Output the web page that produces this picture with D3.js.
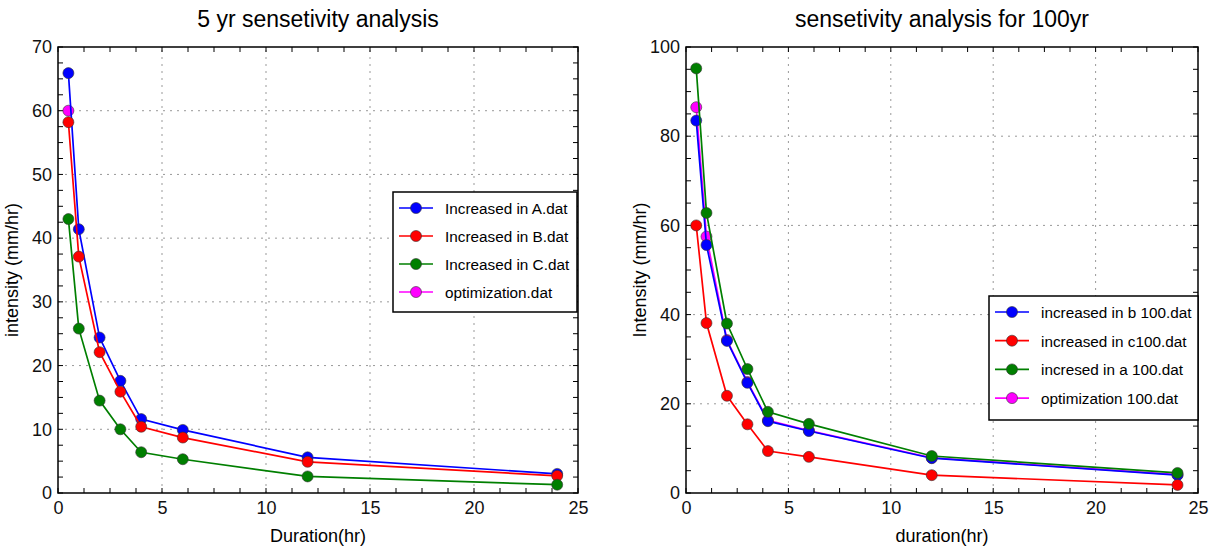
<!DOCTYPE html>
<html>
<head>
<meta charset="utf-8">
<script src="https://cdn.jsdelivr.net/npm/d3@7"></script>
<style>
  body { margin: 0; background: #fff; }
  svg { font-family: "Liberation Sans", Arial, sans-serif; }
  .tick text { font-size: 18px; fill: #111; }
</style>
</head>
<body>
<svg width="1212" height="550"></svg>
<script>
// durations (hr)
var duration = [0.5, 1, 2, 3, 4, 6, 12, 24];

// 5 yr sensitivity
var incA = [65.9, 41.4, 24.4, 17.6, 11.6, 9.9, 5.6, 3.0];
var incB = [58.2, 37.1, 22.1, 15.9, 10.4, 8.7, 4.9, 2.7];
var incC = [43.0, 25.8, 14.5, 10.0, 6.4, 5.3, 2.6, 1.3];
var opt5 = [60.0];

// 100 yr sensitivity
var incB100 = [83.5, 55.6, 34.1, 24.7, 16.1, 13.9, 7.8, 4.0];
var incC100 = [60.0, 38.1, 21.8, 15.4, 9.4, 8.1, 4.0, 1.8];
var incA100 = [95.2, 62.8, 38.0, 27.8, 18.2, 15.5, 8.3, 4.5];
var opt100 = [86.5, 57.5, 34.3, 24.9, 16.3, 14.0, 7.9, 4.1];

var xTicks = [0, 5, 10, 15, 20, 25];
var yTicks5 = [0, 10, 20, 30, 40, 50, 60, 70];
var yTicks100 = [0, 20, 40, 60, 80, 100];

var blue = "#0000ff", red = "#ff0000", green = "#007f00", magenta = "#ff00ff";

var svg = d3.select("svg");

function panel(cfg) {
  var x = d3.scaleLinear().domain([0, 25]).range([cfg.left, cfg.right]);
  var y = d3.scaleLinear().domain([0, cfg.ymax]).range([493, 47]);
  var g = svg.append("g");

  // grid
  g.selectAll(".gx").data(xTicks.slice(1, -1)).enter().append("line")
    .attr("x1", d => x(d)).attr("x2", d => x(d))
    .attr("y1", y(0)).attr("y2", y(cfg.ymax))
    .attr("stroke", "#999").attr("stroke-dasharray", "2,5");
  g.selectAll(".gy").data(cfg.yTicks.slice(1, -1)).enter().append("line")
    .attr("x1", x(0)).attr("x2", x(25))
    .attr("y1", d => y(d)).attr("y2", d => y(d))
    .attr("stroke", "#999").attr("stroke-dasharray", "2,5");

  // minor ticks
  var xMinor = d3.range(0, 25.01, 1.25);
  var yMinor = d3.range(0, cfg.ymax + 0.01, cfg.ystep / 4);
  [y(0), y(cfg.ymax)].forEach(function (yy, k) {
    g.selectAll(null).data(xMinor).enter().append("line")
      .attr("x1", d => x(d)).attr("x2", d => x(d))
      .attr("y1", yy).attr("y2", k == 0 ? yy - 5 : yy + 5)
      .attr("stroke", "#000");
  });
  [x(0), x(25)].forEach(function (xx, k) {
    g.selectAll(null).data(yMinor).enter().append("line")
      .attr("y1", d => y(d)).attr("y2", d => y(d))
      .attr("x1", xx).attr("x2", k == 0 ? xx + 5 : xx - 5)
      .attr("stroke", "#000");
  });

  // axes
  var xAxis = d3.axisBottom(x).tickValues(xTicks).tickSize(0).tickPadding(8);
  g.append("g").attr("transform", `translate(0,${y(0)})`).call(xAxis)
    .call(a => a.select(".domain").remove());
  var yAxis = d3.axisLeft(y).tickValues(cfg.yTicks).tickSize(0).tickPadding(6);
  g.append("g").attr("transform", `translate(${x(0)},0)`).call(yAxis)
    .call(a => a.select(".domain").remove());

  // box
  g.append("rect")
    .attr("x", x(0)).attr("y", y(cfg.ymax))
    .attr("width", x(25) - x(0)).attr("height", y(0) - y(cfg.ymax))
    .attr("fill", "none").attr("stroke", "#000").attr("stroke-width", 1.5);

  // series
  var line = d3.line().x(d => x(d[0])).y(d => y(d[1]));
  cfg.series.forEach(function (s) {
    var pts = s.values.map((v, i) => [duration[i], v]);
    g.append("path").datum(pts).attr("d", line)
      .attr("fill", "none").attr("stroke", s.color).attr("stroke-width", 1.7);
    g.selectAll(null).data(pts).enter().append("circle")
      .attr("cx", d => x(d[0])).attr("cy", d => y(d[1])).attr("r", 5.5)
      .attr("fill", s.color).attr("stroke", "#333").attr("stroke-width", 0.6);
  });

  // title and labels
  var cx = (cfg.left + cfg.right) / 2;
  svg.append("text").attr("x", cx).attr("y", 27).attr("text-anchor", "middle")
    .style("font-size", "23px").text(cfg.title);
  svg.append("text").attr("x", cx).attr("y", 542).attr("text-anchor", "middle")
    .style("font-size", "18px").text(cfg.xlabel);
  svg.append("text")
    .attr("transform", `translate(${cfg.left - 40},270) rotate(-90)`)
    .attr("text-anchor", "middle").style("font-size", "18px").text(cfg.ylabel);

  // legend
  var L = cfg.legend;
  var lg = svg.append("g").attr("transform", `translate(${L.x},${L.y})`);
  lg.append("rect").attr("width", L.w).attr("height", L.h)
    .attr("fill", "#fff").attr("stroke", "#000").attr("stroke-width", 1.5);
  cfg.legendOrder.forEach(function (s, i) {
    var yy = 16 + i * L.dy;
    lg.append("line").attr("x1", 6).attr("x2", 40).attr("y1", yy).attr("y2", yy)
      .attr("stroke", s.color).attr("stroke-width", 1.7);
    lg.append("circle").attr("cx", 23).attr("cy", yy).attr("r", 5.5)
      .attr("fill", s.color).attr("stroke", "#333").attr("stroke-width", 0.6);
    lg.append("text").attr("x", 52).attr("y", yy + 6)
      .style("font-size", "15.3px").text(s.name);
  });
}

var s5 = [
  { name: "Increased in A.dat", values: incA, color: blue },
  { name: "Increased in B.dat", values: incB, color: red },
  { name: "Increased in C.dat", values: incC, color: green },
  { name: "optimization.dat", values: opt5, color: magenta }
];
panel({
  left: 58, right: 578, ymax: 70, ystep: 10, yTicks: yTicks5,
  title: "5 yr sensetivity analysis", xlabel: "Duration(hr)", ylabel: "intensity (mm/hr)",
  series: [s5[3], s5[0], s5[1], s5[2]], legendOrder: s5,
  legend: { x: 393, y: 192, w: 184, h: 120, dy: 28 }
});

var s100 = [
  { name: "increased in b 100.dat", values: incB100, color: blue },
  { name: "increased in c100.dat", values: incC100, color: red },
  { name: "incresed in a 100.dat", values: incA100, color: green },
  { name: "optimization 100.dat", values: opt100, color: magenta }
];
panel({
  left: 686, right: 1198, ymax: 100, ystep: 20, yTicks: yTicks100,
  title: "sensetivity analysis for 100yr", xlabel: "duration(hr)", ylabel: "Intensity (mm/hr)",
  series: [s100[3], s100[0], s100[1], s100[2]], legendOrder: s100,
  legend: { x: 989, y: 296, w: 209, h: 124, dy: 28.7 }
});
</script>
</body>
</html>
